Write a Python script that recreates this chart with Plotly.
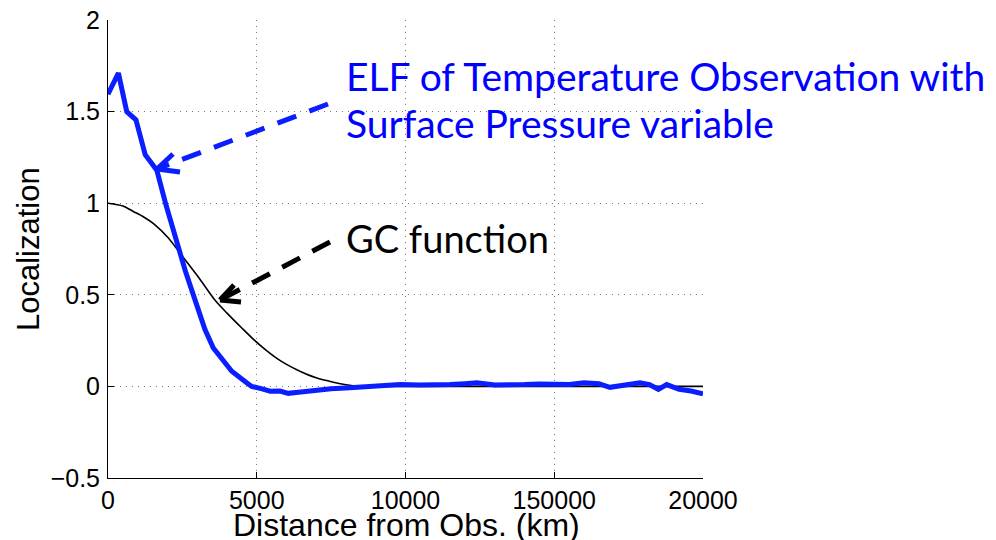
import plotly.graph_objects as go

# ---- data ----
elf_x = [0, 350, 630, 940, 1250, 1640, 1950, 2290, 2600, 2950, 3260, 3540, 3770, 4160, 4660,
         4830, 5150, 5450, 5780, 6060, 6400, 6680, 7130, 7500, 8130, 8920, 9500, 9820, 10500,
         11000, 11500, 12000, 12400, 13000, 13500, 14000, 14500, 15000, 15500, 16000, 16500,
         16870, 17300, 17880, 18200, 18500, 18780, 19200, 19600, 20000]
elf_y = [1.595, 1.71, 1.50, 1.455, 1.265, 1.18, 0.99, 0.80, 0.63, 0.46, 0.31, 0.21, 0.165, 0.083, 0.02,
         0.0, -0.012, -0.026, -0.025, -0.038, -0.032, -0.027, -0.015, -0.013, -0.008, 0.003, 0.008, 0.01, 0.008,
         0.008, 0.01, 0.015, 0.02, 0.008, 0.012, 0.01, 0.013, 0.012, 0.01, 0.02, 0.015,
         -0.005, 0.005, 0.02, 0.01, -0.016, 0.01, -0.016, -0.025, -0.04]

gc_x = [0, 500, 850, 1200, 1520, 2030, 2500, 3090, 3600, 4000, 4490, 4900, 5330, 5700, 6000, 6450,
        7000, 7570, 8000, 8500, 9000, 20000]
gc_y = [1.0, 0.985, 0.955, 0.925, 0.89, 0.81, 0.71, 0.585, 0.47, 0.40, 0.32, 0.255, 0.195, 0.15, 0.12, 0.083,
        0.047, 0.023, 0.009, 0.001, 0.0, 0.0]

x_tickvals = [0, 5000, 10000, 15000, 20000]
x_ticktext = ["0", "5000", "10000", "150000", "20000"]
y_tickvals = [-0.5, 0, 0.5, 1, 1.5, 2]
y_ticktext = ["\u22120.5", "0", "0.5", "1", "1.5", "2"]

BLUE_LINE = "#0a1eff"
BLUE_TEXT = "#0000ff"

# plot area in pixels
L, R, T, B = 108, 703, 20, 478

fig = go.Figure()
fig.add_trace(go.Scatter(x=gc_x, y=gc_y, mode="lines",
                         line=dict(color="black", width=1.6, shape="spline", smoothing=0.8),
                         showlegend=False, hoverinfo="skip"))
fig.add_trace(go.Scatter(x=elf_x, y=elf_y, mode="lines",
                         line=dict(color=BLUE_LINE, width=5),
                         showlegend=False, hoverinfo="skip"))

def px(xp):
    return (xp - L) / (R - L) * 20000

def py(yp):
    return 2 - (yp - T) / (B - T) * 2.5

shapes = []
def arrow(tail, tip, wing1, wing2, color, width):
    shapes.append(dict(type="line", xref="x", yref="y",
                       x0=px(tail[0]), y0=py(tail[1]), x1=px(tip[0]), y1=py(tip[1]),
                       line=dict(color=color, width=width, dash="20px,14px")))
    for w in (wing1, wing2):
        shapes.append(dict(type="line", xref="x", yref="y",
                           x0=px(tip[0]), y0=py(tip[1]), x1=px(w[0]), y1=py(w[1]),
                           line=dict(color=color, width=width)))

arrow((328, 104), (157, 169), (173, 154), (180, 172), BLUE_LINE, 5)
arrow((330, 242), (220, 300), (234, 285), (241, 302), "black", 5)

annotations = []
def ptext(text, xpix, ypix, color, size, family="Lato", xanchor="left", angle=0):
    annotations.append(dict(text=text, x=(xpix - L) / (R - L), y=(B - ypix) / (B - T),
                            xref="paper", yref="paper", xanchor=xanchor, yanchor="middle",
                            showarrow=False, textangle=angle,
                            font=dict(family=family, size=size, color=color)))

ptext("ELF of Temperature Observation with", 344, 76, BLUE_TEXT, 39)
ptext("Surface Pressure variable", 344, 123, BLUE_TEXT, 39)
ptext("GC function", 344, 238, "black", 38)
ptext("Distance from Obs. (km)", 406, 525, "black", 32, family="Liberation Sans", xanchor="center")
ptext("Localization", 28, 249, "black", 31, family="Liberation Sans", xanchor="center", angle=-90)

fig.update_layout(
    width=996, height=540,
    margin=dict(l=L, r=996 - R, t=T, b=540 - B, autoexpand=False),
    paper_bgcolor="white", plot_bgcolor="white",
    shapes=shapes, annotations=annotations,
    font=dict(family="Liberation Sans, Arial", color="black"),
)
grid = dict(showgrid=True, gridcolor="#777777", griddash="1px,5px", gridwidth=1,
            showline=True, linecolor="black", linewidth=1,
            ticks="inside", ticklen=6, tickcolor="black",
            zeroline=False, tickfont=dict(size=25), automargin=False)
fig.update_xaxes(range=[0, 20000], tickvals=x_tickvals, ticktext=x_ticktext, **grid)
fig.update_yaxes(range=[-0.5, 2], tickvals=y_tickvals, ticktext=y_ticktext,
                 ticklabelstandoff=2, **grid)

fig.write_html("out.html")
